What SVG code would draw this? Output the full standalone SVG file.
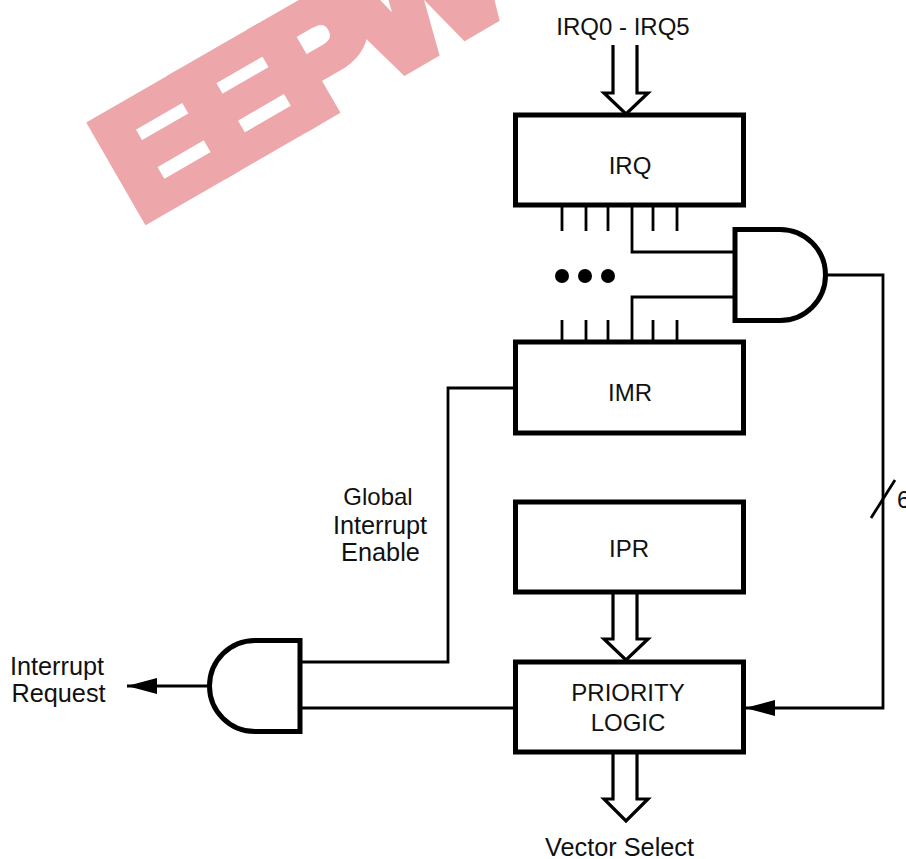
<svg xmlns="http://www.w3.org/2000/svg" width="906" height="859" viewBox="0 0 906 859">
<style>
text{font-family:"Liberation Sans",Arial,sans-serif;font-size:24px;fill:#111}
.m{text-anchor:middle}
.l{font-size:25.300px}
.box{fill:#fff;stroke:#000;stroke-width:5}
.w{fill:none;stroke:#000;stroke-width:2.800}
.g{fill:#fff;stroke:#000;stroke-width:5}
.bus{fill:#fff;stroke:#000;stroke-width:3.200}
.wm{font-family:"Liberation Sans",Arial,sans-serif;font-weight:bold;font-size:152px;fill:#eda6aa;stroke:#eda6aa;stroke-width:14;stroke-linejoin:miter}
</style>
<defs>
<marker id="ah" markerUnits="userSpaceOnUse" markerWidth="32" markerHeight="18" refX="30" refY="8" orient="auto"><path d="M0 0L30 8L0 16Z" fill="#000"/></marker>
</defs>
<text id="watermark" class="wm" transform="translate(139 221) rotate(-30) scale(1.1 1)" letter-spacing="-17">EEPW</text>
<g id="connectors">
<path class="w" d="M562 207V231M586 207V231M608 207V231M653 207V231M677 207V231"/>
<path class="w" d="M562 320V341M586 320V341M608 320V341M653 320V341M677 320V341"/>
<path class="w" d="M632 207V252H735"/>
<path class="w" d="M632 341V297H735"/>
<path class="w" d="M826 275H883V708H745" marker-end="url(#ah)"/>
<path class="w" d="M515 388H448V662H300"/>
<path class="w" d="M515 708H300"/>
<path class="w" d="M208 686H127" marker-end="url(#ah)"/>
<path class="w" d="M871 518L895 480"/>
<path class="bus" d="M613 45V93H604L626 114L648 93H637V45"/>
<path class="bus" d="M613 593V639H604L626 660L648 639H637V593"/>
<path class="bus" d="M613 753V799H604L626 821L648 799H637V753"/>
</g>
<g id="irq-reg"><rect class="box" x="515.500" y="115" width="228" height="90"/><text class="m" x="630" y="174">IRQ</text></g>
<g id="imr-reg"><rect class="box" x="515.500" y="342" width="228" height="91"/><text class="m" x="630" y="401">IMR</text></g>
<g id="ipr-reg"><rect class="box" x="515.500" y="502" width="228" height="90"/><text class="m" x="629" y="557">IPR</text></g>
<g id="priority-logic"><rect class="box" x="515.500" y="662" width="228" height="90"/><text class="m" x="628" y="701">PRIORITY</text><text class="m" x="628" y="731">LOGIC</text></g>
<g id="and-top"><path class="g" d="M735 229.500H780A45.500 45.500 0 0 1 780 320.500H735Z"/></g>
<g id="and-bottom"><path class="g" d="M300 640.500H255A45.500 45.500 0 0 0 255 731.500H300Z"/></g>
<g id="dots"><circle cx="562" cy="276" r="7"/><circle cx="585" cy="276" r="7"/><circle cx="608" cy="276" r="7"/></g>
<g id="labels">
<text class="m" x="623" y="35">IRQ0 - IRQ5</text>
<text class="m l" x="619.500" y="856">Vector Select</text>
<text class="m" x="378" y="505">Global</text>
<text class="m l" x="380" y="534">Interrupt</text>
<text class="m l" x="380.500" y="561">Enable</text>
<text class="m l" x="57" y="675">Interrupt</text>
<text class="m l" x="58.500" y="702">Request</text>
<text x="897" y="508">6</text>
</g>
</svg>
